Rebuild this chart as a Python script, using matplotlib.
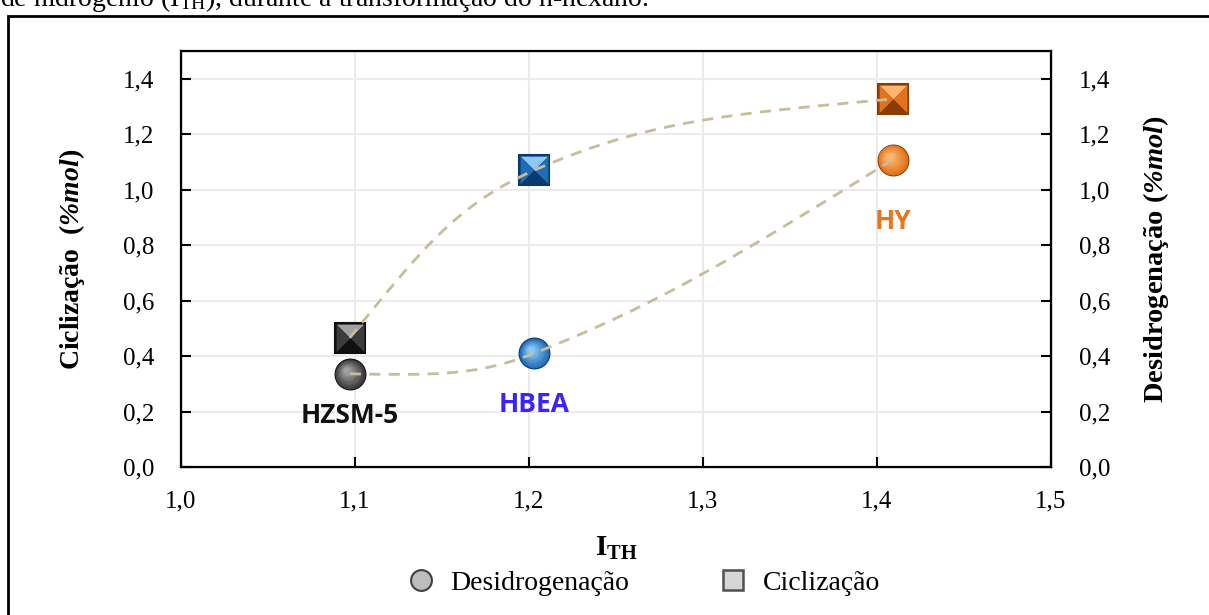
import numpy as np
import matplotlib
matplotlib.use("Agg")
import matplotlib.pyplot as plt
from matplotlib.path import Path
from matplotlib.patches import PathPatch, Rectangle
from matplotlib.lines import Line2D
from matplotlib.transforms import ScaledTranslation
from matplotlib.colors import to_rgb

plt.rcParams['font.family'] = ['Liberation Serif', 'DejaVu Serif']
plt.rcParams['mathtext.fontset'] = 'custom'
plt.rcParams['mathtext.rm'] = 'Liberation Serif'
plt.rcParams['mathtext.bf'] = 'Liberation Serif:bold'
plt.rcParams['mathtext.it'] = 'Liberation Serif:italic'
plt.rcParams['mathtext.bfit'] = 'Liberation Serif:italic:bold'

# data
catalysts = ['HZSM-5', 'HBEA', 'HY']
ith = [1.097, 1.203, 1.409]
desidrogenacao = [0.336, 0.41, 1.108]
ciclizacao = [0.466, 1.07, 1.327]

base_colors = ['#3c3c3c', '#1f6cb8', '#e2731c']
light_colors = ['#a0a0a0', '#8cc8f2', '#ffb770']
dark_colors = ['#101010', '#0a3a70', '#8a3c05']
label_colors = ['#111111', '#3b22ff', '#e8761e']
label_offsets = [-0.152, -0.185, -0.224]


def smooth_path(ax, xs, ys):
    # Excel-like smoothed line, built in pixel space then mapped back to data
    pts = ax.transData.transform(np.column_stack([xs, ys]))
    n = len(pts)
    fwd = [None] * n
    bwd = [None] * n
    for i in range(1, n - 1):
        d = pts[i + 1] - pts[i - 1]
        d = d / np.hypot(*d)
        bwd[i] = pts[i] - d * np.hypot(*(pts[i] - pts[i - 1])) / 3.0
        fwd[i] = pts[i] + d * np.hypot(*(pts[i + 1] - pts[i])) / 3.0
    fwd[0] = pts[0] + 2.0 / 3.0 * (bwd[1] - pts[0])
    bwd[n - 1] = pts[n - 1] + 2.0 / 3.0 * (fwd[n - 2] - pts[n - 1])
    verts = [pts[0]]
    codes = [Path.MOVETO]
    for i in range(n - 1):
        verts += [fwd[i], bwd[i + 1], pts[i + 1]]
        codes += [Path.CURVE4] * 3
    verts = ax.transData.inverted().transform(np.array(verts))
    return Path(verts, codes)


fig = plt.figure(figsize=(12.09, 6.15), dpi=100)

# outer frame and cut-off caption line
fig.patches.append(Rectangle((8 / 1209, -0.2), 1.2, 1 - 16 / 615 + 0.2,
                             transform=fig.transFigure, fill=False,
                             edgecolor='black', linewidth=2))
fig.text(0 / 1209, 1 - 6 / 615,
         'de hidrogênio (I$_{\\mathrm{TH}}$), durante a transformação do n-hexano.',
         fontsize=20, va='baseline', ha='left')

ax = fig.add_axes([181 / 1209, 1 - 467 / 615, 870 / 1209, 416 / 615])
ax.set_xlim(1.0, 1.5)
ax.set_ylim(0, 1.5)
xt = np.arange(1.0, 1.51, 0.1)
yt = np.arange(0, 1.41, 0.2)
ax.set_xticks(xt)
ax.set_yticks(yt)
ax.set_xticklabels([f'{v:.1f}'.replace('.', ',') for v in xt])
ax.set_yticklabels([f'{v:.1f}'.replace('.', ',') for v in yt])
ax.grid(True, color='#ebebeb', linewidth=1.5)
ax.set_axisbelow(True)
for s in ax.spines.values():
    s.set_linewidth(1.6)
ax.tick_params(direction='in', length=7, width=1.5, labelsize=18)
ax.tick_params(axis='y', pad=19)
ax.tick_params(axis='x', pad=17)

ax2 = ax.twinx()
ax2.set_ylim(0, 1.5)
ax2.set_yticks(yt)
ax2.set_yticklabels([f'{v:.1f}'.replace('.', ',') for v in yt])
ax2.tick_params(direction='in', length=7, width=1.5, labelsize=18, pad=20)

# markers
tri_top = [(-1, 1), (1, 1), (0, 0)]
tri_bot = [(-1, -1), (1, -1), (0, 0)]
tri_left = [(-1, -1), (-1, 1), (0, 0)]
tri_right = [(1, -1), (1, 1), (0, 0)]

n_layers = 12
for i in range(len(catalysts)):
    x = ith[i]
    # glossy sphere for desidrogenacao
    ax.plot(x, desidrogenacao[i], 'o', ms=23, mfc=dark_colors[i], mec='none', zorder=4)
    c0 = np.array(to_rgb(base_colors[i]))
    c1 = np.array(to_rgb(light_colors[i]))
    for k in range(n_layers):
        f = k / (n_layers - 1)
        ms = 21.5 - 17 * f
        col = c0 * (1 - f) + c1 * f
        off = ScaledTranslation(-2.5 * f / 72, 2.5 * f / 72, fig.dpi_scale_trans)
        ax.plot(x, desidrogenacao[i], 'o', ms=ms, mfc=col, mec='none', zorder=4,
                transform=ax.transData + off)
    # pyramid square for ciclizacao
    ax.plot(x, ciclizacao[i], 's', ms=22, mfc=dark_colors[i], mec=dark_colors[i], mew=1.5, zorder=4)
    ax.plot(x, ciclizacao[i], marker=tri_top, ms=20, mfc=light_colors[i], mec='none', zorder=4)
    ax.plot(x, ciclizacao[i], marker=tri_left, ms=20, mfc=base_colors[i], mec='none', zorder=4)
    ax.plot(x, ciclizacao[i], marker=tri_right, ms=20, mfc=base_colors[i], mec='none', zorder=4)
    ax.plot(x, ciclizacao[i], marker=tri_bot, ms=20, mfc=dark_colors[i], mec='none', zorder=4)
    ax.text(x, desidrogenacao[i] + label_offsets[i], catalysts[i], color=label_colors[i],
            fontsize=19, fontweight='bold', family='Open Sans', ha='center', va='center', zorder=5)

# smoothed dashed trend lines
for series in (desidrogenacao, ciclizacao):
    ax.add_patch(PathPatch(smooth_path(ax, ith, series), fill=False, edgecolor='#c8bd99',
                           linewidth=2, linestyle=(0, (4, 3)), zorder=6))

ax.set_xlabel(r'$\mathbf{I}_{\mathbf{TH}}$', fontsize=21, labelpad=16)
ax.set_ylabel('Ciclização  (' + r'$\mathbfit{\%mol}$' + ')', fontsize=20,
              fontweight='bold', labelpad=26)
ax2.set_ylabel('Desidrogenação (' + r'$\mathbfit{\%mol}$' + ')', fontsize=20.5,
               fontweight='bold', labelpad=22)

h1 = Line2D([], [], ls='none', marker='o', ms=15, mfc='#bdbdbd', mec='#404040', mew=1.5)
h2 = Line2D([], [], ls='none', marker='s', ms=14, mfc='#d6d6d6', mec='#505050', mew=1.8)
fig.legend([h1, h2], ['Desidrogenação', 'Ciclização'], loc='center',
           bbox_to_anchor=(640 / 1209, 1 - 583 / 615), ncol=2, frameon=False,
           fontsize=20, handletextpad=0.3, handlelength=1.5, columnspacing=3.0)

fig.savefig('out.png', dpi=100)
